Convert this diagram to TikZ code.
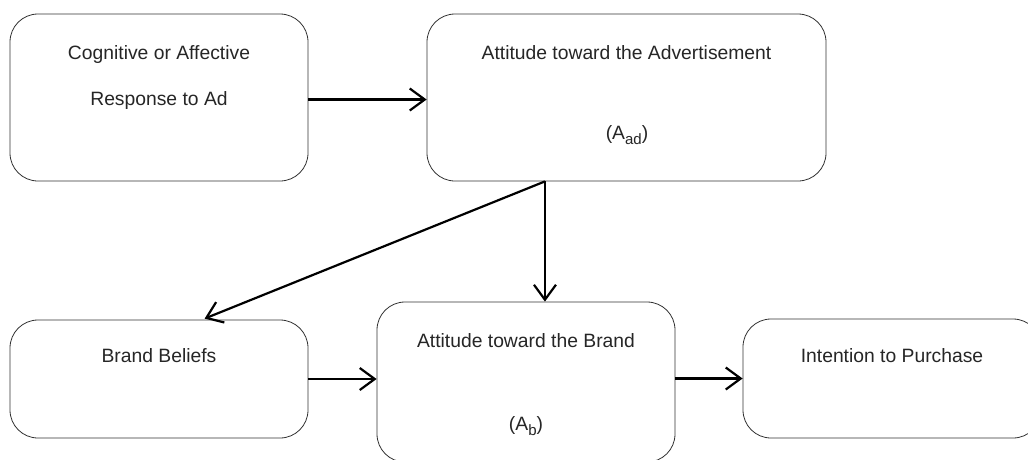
\documentclass[tikz,border=0pt]{standalone}
\usepackage{fontspec}
\setmainfont{Liberation Sans}
\usetikzlibrary{arrows.meta,calc}
\newcommand{\lowsub}[1]{\raisebox{-5.5pt}{\fontsize{15}{15}\selectfont #1}}
\begin{document}
\begin{tikzpicture}[x=1pt,y=-1pt,
  box/.style={draw=black!80,line width=0.8pt,rounded corners=28pt,inner sep=0pt,fill=white},
  lbl/.style={anchor=base,inner sep=0pt,text=black!85,font=\fontsize{19.3}{23}\selectfont},
  conn/.style={draw=black,line width=2.2pt,-{Straight Barb[length=15pt,width=22pt,line width=2.2pt]}}]
\useasboundingbox[fill=white] (0,0) rectangle (1028,459);
\node[box,minimum width=298pt,minimum height=167pt] (b1) at (159,97.5) {};
\node[box,minimum width=399pt,minimum height=167pt] (b2) at (626.5,97.5) {};
\node[box,minimum width=298pt,minimum height=118pt] (b3) at (159,379) {};
\node[box,minimum width=298pt,minimum height=160pt] (b4) at (526,382) {};
\node[box,minimum width=298pt,minimum height=119pt] (b5) at (892,378.5) {};
\node[lbl] (t1a) at (159,59.5) {Cognitive or Affective};
\node[lbl] (t1b) at (159,105) {Response to Ad};
\node[lbl] (t2a) at (626.5,59.5) {Attitude toward the Advertisement};
\node[lbl] (t2b) at (627,139) {(A\lowsub{ad})};
\node[lbl] (t3) at (159,362) {Brand Beliefs};
\node[lbl] (t4a) at (526,347) {Attitude toward the Brand};
\node[lbl] (t4b) at (526,430) {(A\lowsub{b})};
\node[lbl] (t5) at (892,362) {Intention to Purchase};
\coordinate (s) at ($(b2.south west)!0.296!(b2.south east)$);
\draw[conn] ($(b1.east)+(0,2)$) -- ($(b2.west)+(0,2)$);
\draw[conn] (s) -- (s |- b4.north);
\draw[conn] (s) -- ($(b3.north west)+(195,-1)$);
\draw[conn] (b3.east) -- (b3.east -| b4.west);
\draw[conn] (b5.west -| b4.east) -- (b5.west);
\end{tikzpicture}
\end{document}
